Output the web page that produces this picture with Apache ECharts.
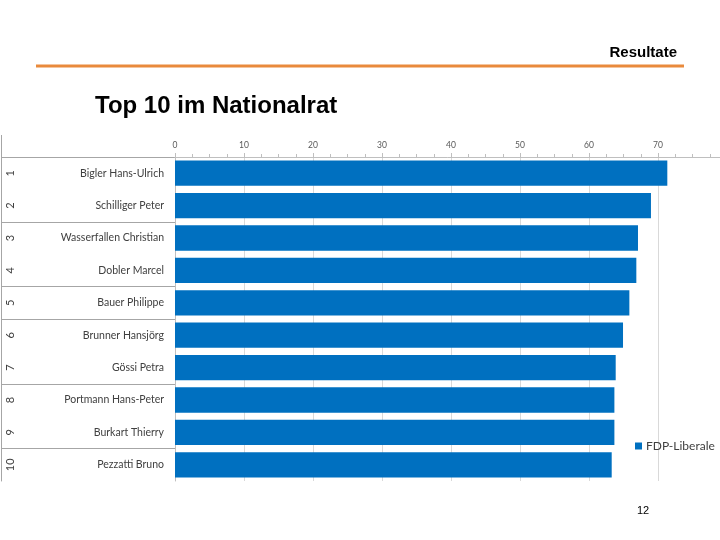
<!DOCTYPE html>
<html><head><meta charset="utf-8">
<script src="https://cdn.jsdelivr.net/npm/echarts@6/dist/echarts.min.js"></script>
<style>html,body{margin:0;padding:0;background:#fff}#c{width:720px;height:540px}</style>
</head><body><div id="c"></div>
<script>
const names = ['Bigler Hans-Ulrich','Schilliger Peter','Wasserfallen Christian','Dobler Marcel','Bauer Philippe','Brunner Hansjörg','Gössi Petra','Portmann Hans-Peter','Burkart Thierry','Pezzatti Bruno'];
const ranks = ['1','2','3','4','5','6','7','8','9','10'];
const values = [71.35, 68.98, 67.1, 66.86, 65.85, 64.93, 63.87, 63.68, 63.68, 63.29];
const seriesName = 'FDP-Liberale';
// separator boundaries counted from the bottom (rank axis drawn bottom-up)
const separatorIdx = [1, 3, 5, 6, 8];

const chart = echarts.init(document.getElementById('c'));
chart.setOption({
  animation: false,
  backgroundColor: '#fff',
  title: [
    {text: 'Resultate', right: 38, top: 40, textStyle: {fontFamily: 'Liberation Sans', fontSize: 15, fontWeight: 'bold', color: '#000'}},
    {text: 'Top 10 im Nationalrat', left: 90, top: 89, textStyle: {fontFamily: 'Liberation Sans', fontSize: 24, fontWeight: 'bold', color: '#000'}},
    {text: '12', left: 632, top: 500, textStyle: {fontFamily: 'Liberation Sans', fontSize: 11, fontWeight: 'normal', color: '#000'}}
  ],
  graphic: [
    {type: 'line', shape: {x1: 36, y1: 66, x2: 684, y2: 66}, style: {stroke: '#E98A3C', lineWidth: 3}},
    {type: 'line', shape: {x1: 1.5, y1: 135, x2: 1.5, y2: 157}, style: {stroke: '#a6a6a6', lineWidth: 1}}
  ],
  legend: {
    data: [seriesName], left: 635, top: 440, padding: 0, icon: 'rect', itemWidth: 7, itemHeight: 7, itemGap: 4,
    textStyle: {fontFamily: 'Lato', fontSize: 12, color: '#404040', padding: [0, 0, 0, -1]}
  },
  grid: [
    {left: 175, right: -7, top: 157, bottom: 59, outerBoundsMode: 'none'},
    {left: 1, width: 174, top: 157, bottom: 59, outerBoundsMode: 'none'}
  ],
  xAxis: [
    {gridIndex: 0, type: 'value', position: 'top', min: 0, max: 80, interval: 10,
     axisLine: {show: true, lineStyle: {color: '#bfbfbf'}},
     axisTick: {show: true, length: 4, lineStyle: {color: '#bfbfbf'}},
     minorTick: {show: true, splitNumber: 4, length: 3, lineStyle: {color: '#bfbfbf'}},
     axisLabel: {fontFamily: 'Lato', fontSize: 8.5, color: '#595959', margin: 7},
     splitLine: {show: true, lineStyle: {color: '#d9d9d9'}}},
    {gridIndex: 1, type: 'value', show: false}
  ],
  yAxis: [
    {gridIndex: 0, type: 'category', inverse: true, data: names,
     axisLine: {show: true, lineStyle: {color: '#bfbfbf'}},
     axisTick: {show: false},
     axisLabel: {fontFamily: 'Lato', fontSize: 10.5, color: '#404040', margin: 11}},
    {gridIndex: 1, type: 'category', inverse: false, data: ranks.slice().reverse(),
     axisLine: {show: true, lineStyle: {color: '#a6a6a6'}},
     axisTick: {show: false},
     axisLabel: {inside: true, rotate: 90, margin: 4, fontFamily: 'Lato', fontSize: 11, color: '#404040'},
     splitLine: {show: true, interval: (i) => separatorIdx.includes(i), lineStyle: {color: '#a6a6a6'}}}
  ],
  series: [
    {name: seriesName, type: 'bar', xAxisIndex: 0, yAxisIndex: 0, data: values,
     itemStyle: {color: '#0070C0'}, barCategoryGap: '22%'}
  ]
});
</script></body></html>
